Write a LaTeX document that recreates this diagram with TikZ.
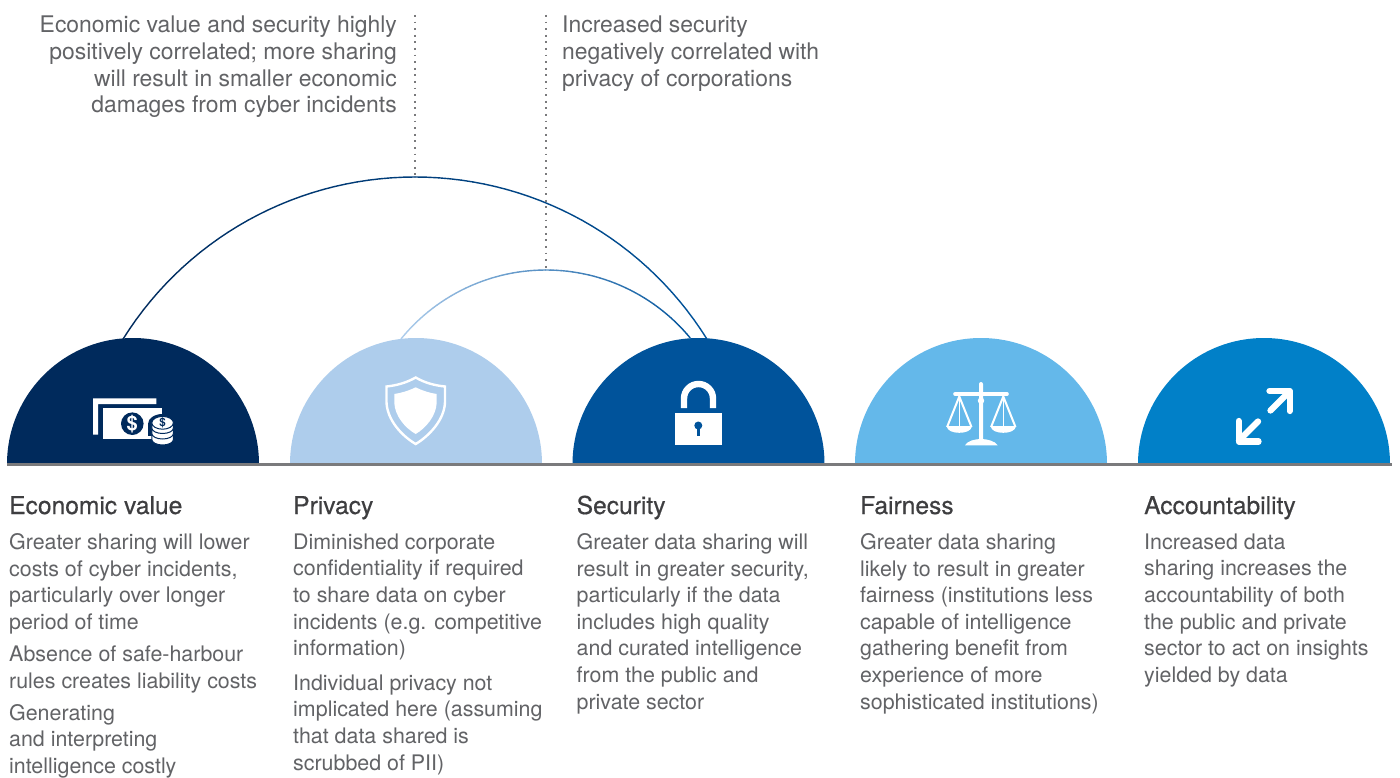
\documentclass[tikz,border=0pt]{standalone}
\usepackage{fontspec}
\setmainfont{TeX Gyre Heros}
\newfontfamily\headfont[FakeBold=0.45]{TeX Gyre Heros}
\usetikzlibrary{calc}
\definecolor{navy}{HTML}{002A5C}
\definecolor{pale}{HTML}{AECDEC}
\definecolor{royal}{HTML}{00539B}
\definecolor{sky}{HTML}{64B8EA}
\definecolor{ocean}{HTML}{0180C8}
\definecolor{rulegrey}{HTML}{7A7A7C}
\definecolor{bodygrey}{HTML}{626366}
\definecolor{headgrey}{HTML}{3E3E40}
\tikzset{
  bodytext/.style={anchor=north west,inner sep=0pt,align=left,text=bodygrey,font=\fontsize{21.4}{26.6}\selectfont},
  notetext/.style={anchor=north west,inner sep=0pt,align=left,text=bodygrey,font=\fontsize{22.9}{26.6}\selectfont},
  headtext/.style={anchor=base west,inner sep=0pt,text=headgrey,font=\headfont\fontsize{24.6}{26}\selectfont},
  callout/.style={draw=rulegrey,line width=1.9pt,dash pattern=on 1.9pt off 4.7pt},
  iconline/.style={draw=white,line join=round,line cap=round},
  arcseg/.style={line width=1.4pt,line cap=round},
}
\newcommand{\dome}[3]{\fill[#3] (#1-126,464) arc[start angle=180,end angle=0,radius=126pt] -- cycle;\coordinate (#2) at (#1,464.7);}
\newcommand{\gradarc}[6]{% centre, radius, start angle, end angle, colour A, colour B
  \foreach \i in {1,...,60}{
    \pgfmathsetmacro{\aa}{#3+(#4-#3)*(\i-1)/60}
    \pgfmathsetmacro{\ab}{#3+(#4-#3)*\i/60}
    \pgfmathsetmacro{\pc}{100*(\i-1)/59}
    \colorlet{segcol}{#6!\pc!#5}
    \draw[arcseg,segcol] ($(#1)+({#2*cos(\aa)},{-#2*sin(\aa)})$) -- ($(#1)+({#2*cos(\ab)},{-#2*sin(\ab)})$);
  }}
\begin{document}
\begin{tikzpicture}[x=1pt,y=-1pt]
\useasboundingbox (0,0) rectangle (1400,778);
\fill[white] (0,0) rectangle (1400,778);
% domes
\dome{133}{ev}{navy}
\dome{416}{pr}{pale}
\dome{698.5}{se}{royal}
\dome{981}{fa}{sky}
\dome{1264}{ac}{ocean}
\draw[rulegrey,line width=2.8pt] ($(ev)+(-126,0)$) -- ($(ac)+(128,0)$);
% arcs
\coordinate (arcA) at (415,521);
\coordinate (arcB) at (546,457);
\gradarc{arcA}{344}{148}{32}{navy}{royal}
\gradarc{arcB}{187}{140.8}{39.6}{pale}{royal}
% callouts
\coordinate (topA) at (415,15);
\coordinate (topB) at (546,15);
\coordinate (crestA) at (415,177);
\coordinate (crestB) at (546,270);
\draw[callout] (topA) -- (crestA);
\draw[callout] (topB) -- (crestB);
\node[notetext,align=right,anchor=north east] (noteA) at (397,16) {Economic value and security highly\\positively correlated; more sharing\\will result in smaller economic\\damages from cyber incidents};
\node[notetext] (noteB) at (562,16) {Increased security\\negatively correlated with\\privacy of corporations};
% money icon
\fill[white] (93,398.3) -- (156.3,398.3) -- (156.3,404) -- (98,404) -- (98,434.7) -- (93,434.7) -- cycle;
\fill[white] (103,408.3) rectangle (161.7,439.3);
\fill[navy] (132.3,423.7) circle[radius=11.3pt];
\node[inner sep=0pt,text=white,font=\bfseries\fontsize{20}{20}\selectfont] (dollarA) at (132.3,423.7) {\$};
\fill[navy] (162.5,424) ellipse[x radius=14.5pt,y radius=10pt];
\fill[navy] (148,424) rectangle (177,436);
\foreach \yy in {439.5,433.5,428}{
  \fill[white,draw=navy,line width=1pt] (151.8,\yy-5) -- (151.8,\yy) arc[start angle=180,end angle=360,x radius=10.8pt,y radius=5.5pt] -- (173.4,\yy-5) -- cycle;
}
\fill[white,draw=navy,line width=1pt] (162.6,422.8) ellipse[x radius=10.8pt,y radius=6.4pt];
\node[inner sep=0pt,text=navy,font=\bfseries\fontsize{11.5}{11.5}\selectfont] (dollarB) at (162.6,422.6) {\$};
% shield icon
\draw[white,line width=2.4pt,line join=miter] (415.7,377.5) .. controls (406,383) and (396,385.5) .. (386.5,386.5) -- (386.5,402) .. controls (387,420) and (402,436) .. (415.7,444) .. controls (429,436) and (444.5,420) .. (445,402) -- (445,386.5) .. controls (435,385.5) and (425,383) .. (415.7,377.5) -- cycle;
\fill[white] (415.7,387.3) .. controls (408,391) and (401,393) .. (394.3,394) -- (394.3,403) .. controls (395,416) and (405,428) .. (415.7,434) .. controls (426,428) and (436,416) .. (436.7,403) -- (436.7,394) .. controls (430,393) and (423,391) .. (415.7,387.3) -- cycle;
% lock icon
\fill[white] (675.3,412.7) rectangle (721.7,445.3);
\draw[white,line width=6.4pt] (684,408) -- (684,398.5) arc[start angle=180,end angle=0,radius=14.5pt] -- (713,408);
\fill[royal] (698.3,425.5) circle[radius=4pt];
\fill[royal] (696.7,426) rectangle (699.9,436);
% scales icon
\fill[white] (979,384) arc[start angle=180,end angle=0,radius=2pt] -- (983,440) -- (979,440) -- cycle;
\draw[white,line width=3.6pt,line cap=round] (955,394) -- (1007,394);
\fill[white] (981,400.7) circle[radius=3.2pt];
\fill[white] (965,445.3) .. controls (967,441) and (975,439) .. (981,439) .. controls (987,439) and (995,441) .. (997.7,445.3) -- cycle;
\foreach \cx in {959.3,1003.3}{
  \draw[white,line width=2pt,line join=round] (\cx-12.2,427) -- (\cx,396.5) -- (\cx+12.2,427);
  \draw[white,line width=1.3pt] (\cx,396.5) -- (\cx,427);
  \fill[white] (\cx-12.9,426) -- (\cx+12.9,426) .. controls (\cx+12,431) and (\cx+6,432.8) .. (\cx,432.8) .. controls (\cx-6,432.8) and (\cx-12,431) .. (\cx-12.9,426) -- cycle;
}
% arrows icon
\draw[iconline,line width=6.3pt] (1270.5,410.5) -- (1289.5,391.5);
\draw[iconline,line width=6.3pt] (1269.5,391) -- (1289.7,391) -- (1289.7,411);
\draw[iconline,line width=6.3pt] (1258,421.5) -- (1239,440.5);
\draw[iconline,line width=6.3pt] (1238.7,421) -- (1238.7,441.5) -- (1258.5,441.5);
% headings
\node[headtext] (h1) at (9,514) {Economic value};
\node[headtext] (h2) at (293,514) {Privacy};
\node[headtext] (h3) at (576.5,514) {Security};
\node[headtext] (h4) at (860,514) {Fairness};
\node[headtext] (h5) at (1144,514) {Accountability};
% bodies
\node[bodytext] (b1) at (9,533.4) {Greater sharing will lower\\costs of cyber incidents,\\particularly over longer\\period of time\\[5.6pt]Absence of safe-harbour\\rules creates liability costs\\[5.6pt]Generating\\and interpreting\\intelligence costly};
\node[bodytext] (b2) at (293,533.4) {Diminished corporate\\confidentiality if required\\to share data on cyber\\incidents (e.g. competitive\\information)\\[8pt]Individual privacy not\\implicated here (assuming\\that data shared is\\scrubbed of PII)};
\node[bodytext] (b3) at (576.5,533.4) {Greater data sharing will\\result in greater security,\\particularly if the data\\includes high quality\\and curated intelligence\\from the public and\\private sector};
\node[bodytext] (b4) at (860,533.4) {Greater data sharing\\likely to result in greater\\fairness (institutions less\\capable of intelligence\\gathering benefit from\\experience of more\\sophisticated institutions)};
\node[bodytext] (b5) at (1144,533.4) {Increased data\\sharing increases the\\accountability of both\\the public and private\\sector to act on insights\\yielded by data};
\end{tikzpicture}
\end{document}
